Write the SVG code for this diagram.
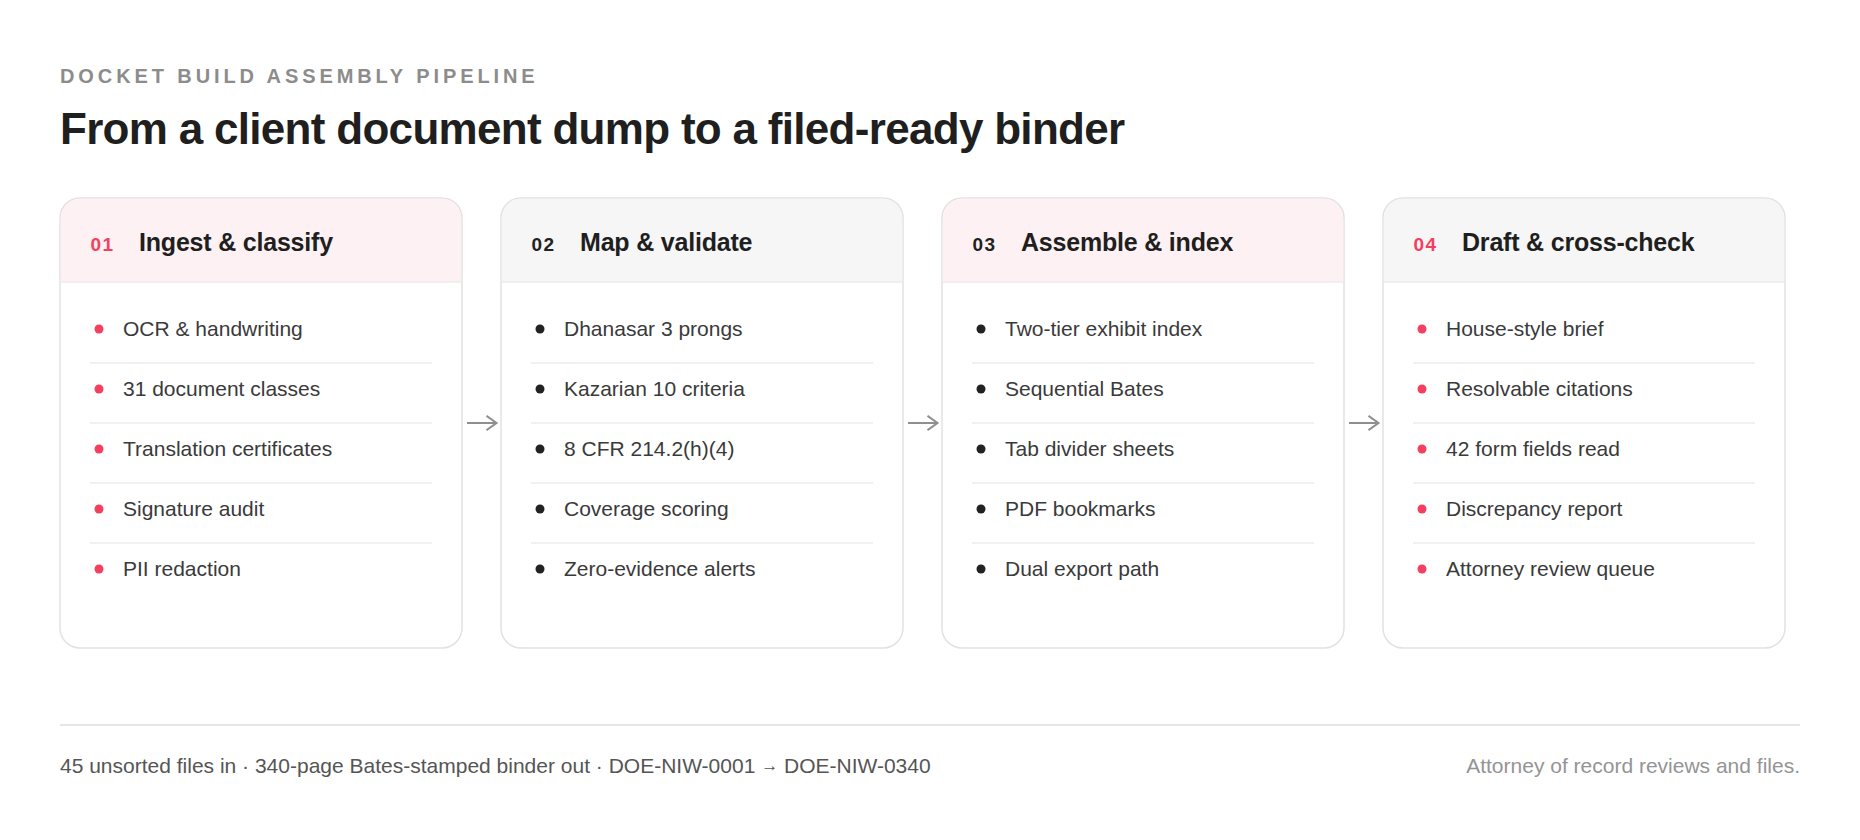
<svg xmlns="http://www.w3.org/2000/svg" width="1860" height="840" viewBox="0 0 1860 840">
<style>
.eyebrow{font-family:"Liberation Sans",Arial,sans-serif;font-weight:700;font-size:20px;letter-spacing:3.9px;fill:#8c8c8c}
.title{font-family:"Liberation Sans",Arial,sans-serif;font-weight:700;font-size:44px;letter-spacing:-0.7px;fill:#1f1f1f}
.card{fill:#ffffff;stroke:#e2e2e2;stroke-width:1.5}
.hd-pink{fill:#fdf1f3}
.hd-gray{fill:#f6f6f6}
.hline{stroke:#ebebeb;stroke-width:1.5}
.num{font-family:"Liberation Sans",Arial,sans-serif;font-weight:700;font-size:19px;letter-spacing:1.5px}
.num-red{fill:#f43f5e}
.num-dark{fill:#222222}
.htitle{font-family:"Liberation Sans",Arial,sans-serif;font-weight:700;font-size:25px;letter-spacing:-0.2px;fill:#1f1f1f}
.item{font-family:"Liberation Sans",Arial,sans-serif;font-size:21px;fill:#3a3a3a}
.div{stroke:#ececec;stroke-width:1.5}
.dot-red{fill:#f43f5e}
.dot-dark{fill:#222222}
.conn{stroke:#8f8f8f;stroke-width:2;fill:none}
.foot-l{font-family:"Liberation Sans",Arial,sans-serif;font-size:21px;fill:#555555}
.foot-r{font-family:"Liberation Sans",Arial,sans-serif;font-size:21px;fill:#949494}
</style>
<defs>
<marker id="ah" markerWidth="14" markerHeight="18" refX="11" refY="8" orient="auto" markerUnits="userSpaceOnUse">
<path d="M1,0.8 L11,8 L1,15.2" fill="none" stroke="#8f8f8f" stroke-width="2"/>
</marker>
</defs>
<rect width="1860" height="840" fill="#ffffff"/>

<text class="eyebrow" x="60" y="83">DOCKET BUILD ASSEMBLY PIPELINE</text>
<text class="title" x="60" y="144">From a client document dump to a filed-ready binder</text>

<g id="connectors">
<line class="conn" x1="467" y1="423" x2="496.5" y2="423" marker-end="url(#ah)"/>
<line class="conn" x1="908" y1="423" x2="937.5" y2="423" marker-end="url(#ah)"/>
<line class="conn" x1="1349" y1="423" x2="1378.5" y2="423" marker-end="url(#ah)"/>
</g>

<g id="node-01">
<rect class="card" x="60" y="198" width="402" height="450" rx="20"/>
<path class="hd-pink" d="M60.75,282 V218 A19.25,19.25 0 0 1 80,198.75 H442 A19.25,19.25 0 0 1 461.25,218 V282 Z"/>
<line class="hline" x1="60.75" y1="282" x2="461.25" y2="282"/>
<text class="num num-red" x="90.5" y="250.5">01</text>
<text class="htitle" x="139" y="251">Ingest &amp; classify</text>
<circle class="dot-red" cx="99" cy="329" r="4.5"/><text class="item" x="123" y="336">OCR &amp; handwriting</text>
<line class="div" x1="90" y1="363" x2="432" y2="363"/>
<circle class="dot-red" cx="99" cy="389" r="4.5"/><text class="item" x="123" y="396">31 document classes</text>
<line class="div" x1="90" y1="423" x2="432" y2="423"/>
<circle class="dot-red" cx="99" cy="449" r="4.5"/><text class="item" x="123" y="456">Translation certificates</text>
<line class="div" x1="90" y1="483" x2="432" y2="483"/>
<circle class="dot-red" cx="99" cy="509" r="4.5"/><text class="item" x="123" y="516">Signature audit</text>
<line class="div" x1="90" y1="543" x2="432" y2="543"/>
<circle class="dot-red" cx="99" cy="569" r="4.5"/><text class="item" x="123" y="576">PII redaction</text>
</g>

<g id="node-02">
<rect class="card" x="501" y="198" width="402" height="450" rx="20"/>
<path class="hd-gray" d="M501.75,282 V218 A19.25,19.25 0 0 1 521,198.75 H883 A19.25,19.25 0 0 1 902.25,218 V282 Z"/>
<line class="hline" x1="501.75" y1="282" x2="902.25" y2="282"/>
<text class="num num-dark" x="531.5" y="250.5">02</text>
<text class="htitle" x="580" y="251">Map &amp; validate</text>
<circle class="dot-dark" cx="540" cy="329" r="4.5"/><text class="item" x="564" y="336">Dhanasar 3 prongs</text>
<line class="div" x1="531" y1="363" x2="873" y2="363"/>
<circle class="dot-dark" cx="540" cy="389" r="4.5"/><text class="item" x="564" y="396">Kazarian 10 criteria</text>
<line class="div" x1="531" y1="423" x2="873" y2="423"/>
<circle class="dot-dark" cx="540" cy="449" r="4.5"/><text class="item" x="564" y="456">8 CFR 214.2(h)(4)</text>
<line class="div" x1="531" y1="483" x2="873" y2="483"/>
<circle class="dot-dark" cx="540" cy="509" r="4.5"/><text class="item" x="564" y="516">Coverage scoring</text>
<line class="div" x1="531" y1="543" x2="873" y2="543"/>
<circle class="dot-dark" cx="540" cy="569" r="4.5"/><text class="item" x="564" y="576">Zero-evidence alerts</text>
</g>

<g id="node-03">
<rect class="card" x="942" y="198" width="402" height="450" rx="20"/>
<path class="hd-pink" d="M942.75,282 V218 A19.25,19.25 0 0 1 962,198.75 H1324 A19.25,19.25 0 0 1 1343.25,218 V282 Z"/>
<line class="hline" x1="942.75" y1="282" x2="1343.25" y2="282"/>
<text class="num num-dark" x="972.5" y="250.5">03</text>
<text class="htitle" x="1021" y="251">Assemble &amp; index</text>
<circle class="dot-dark" cx="981" cy="329" r="4.5"/><text class="item" x="1005" y="336">Two-tier exhibit index</text>
<line class="div" x1="972" y1="363" x2="1314" y2="363"/>
<circle class="dot-dark" cx="981" cy="389" r="4.5"/><text class="item" x="1005" y="396">Sequential Bates</text>
<line class="div" x1="972" y1="423" x2="1314" y2="423"/>
<circle class="dot-dark" cx="981" cy="449" r="4.5"/><text class="item" x="1005" y="456">Tab divider sheets</text>
<line class="div" x1="972" y1="483" x2="1314" y2="483"/>
<circle class="dot-dark" cx="981" cy="509" r="4.5"/><text class="item" x="1005" y="516">PDF bookmarks</text>
<line class="div" x1="972" y1="543" x2="1314" y2="543"/>
<circle class="dot-dark" cx="981" cy="569" r="4.5"/><text class="item" x="1005" y="576">Dual export path</text>
</g>

<g id="node-04">
<rect class="card" x="1383" y="198" width="402" height="450" rx="20"/>
<path class="hd-gray" d="M1383.75,282 V218 A19.25,19.25 0 0 1 1403,198.75 H1765 A19.25,19.25 0 0 1 1784.25,218 V282 Z"/>
<line class="hline" x1="1383.75" y1="282" x2="1784.25" y2="282"/>
<text class="num num-red" x="1413.5" y="250.5">04</text>
<text class="htitle" x="1462" y="251">Draft &amp; cross-check</text>
<circle class="dot-red" cx="1422" cy="329" r="4.5"/><text class="item" x="1446" y="336">House-style brief</text>
<line class="div" x1="1413" y1="363" x2="1755" y2="363"/>
<circle class="dot-red" cx="1422" cy="389" r="4.5"/><text class="item" x="1446" y="396">Resolvable citations</text>
<line class="div" x1="1413" y1="423" x2="1755" y2="423"/>
<circle class="dot-red" cx="1422" cy="449" r="4.5"/><text class="item" x="1446" y="456">42 form fields read</text>
<line class="div" x1="1413" y1="483" x2="1755" y2="483"/>
<circle class="dot-red" cx="1422" cy="509" r="4.5"/><text class="item" x="1446" y="516">Discrepancy report</text>
<line class="div" x1="1413" y1="543" x2="1755" y2="543"/>
<circle class="dot-red" cx="1422" cy="569" r="4.5"/><text class="item" x="1446" y="576">Attorney review queue</text>
</g>

<line x1="60" y1="725" x2="1800" y2="725" stroke="#dedede" stroke-width="1.5"/>
<text class="foot-l" x="60" y="773">45 unsorted files in · 340-page Bates-stamped binder out · DOE-NIW-0001 <tspan font-size="17" dy="-2">→</tspan><tspan dy="2"> DOE-NIW-0340</tspan></text>
<text class="foot-r" x="1800" y="773" text-anchor="end">Attorney of record reviews and files.</text>
</svg>
